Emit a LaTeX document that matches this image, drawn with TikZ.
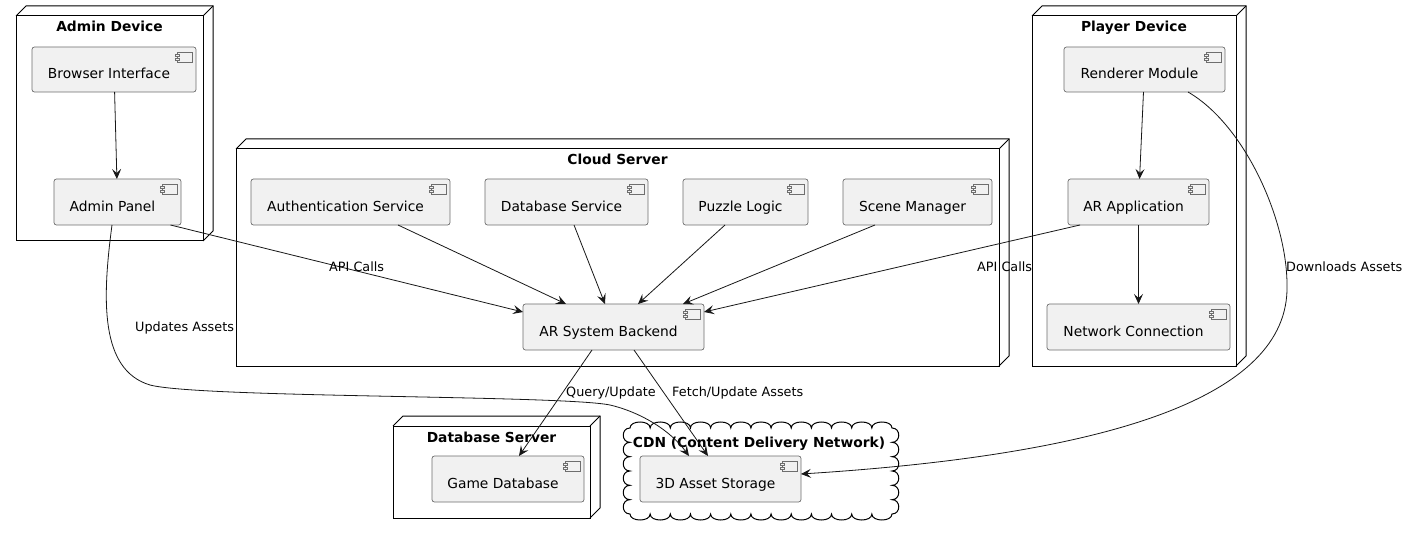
\documentclass[tikz,border=0pt]{standalone}
\usepackage{fontspec}
\setmainfont{DejaVu Sans}
\usetikzlibrary{arrows.meta}
\definecolor{compfill}{HTML}{F1F1F1}
\definecolor{compline}{HTML}{6E6E6E}
\definecolor{edgecol}{HTML}{181818}
\tikzset{
 comp/.style={draw=compline, line width=0.7pt, fill=compfill, rounded corners=2.5pt, inner sep=0pt, outer sep=0pt, minimum height=46pt, font=\fontsize{13.8}{16}\selectfont, text height=19pt, text depth=0pt, execute at begin node={\hspace*{-10pt}}},
 container/.style={draw=black, line width=1pt, fill=white, inner sep=0pt, outer sep=0pt},
 depthline/.style={draw=black, line width=1pt, line join=miter},
 ttl/.style={font=\bfseries\fontsize{13.8}{16}\selectfont, inner sep=0pt, anchor=base},
 elab/.style={font=\fontsize{12.8}{15}\selectfont, inner sep=0pt, anchor=base west},
 arr/.style={draw=edgecol, line width=0.8pt, -{Stealth[length=10pt,width=9pt,inset=4pt]}},
 iconbox/.style={draw=compline, line width=0.6pt, fill=compfill},
}
\newcommand\mkdepth[1]{%
 \draw[depthline] (#1.north west) -- ++(10,-10) -- ([shift={(10pt,10pt)}]#1.north east) -- ([shift={(10pt,10pt)}]#1.south east) -- (#1.south east);
 \draw[depthline] (#1.north east) -- ++(10,-10);}
\newcommand\mkicon[1]{%
 \draw[iconbox] ([xshift=-19pt,yshift=-5pt]#1.north east) rectangle ++(15,10);
 \draw[iconbox] ([xshift=-21pt,yshift=-7pt]#1.north east) rectangle ++(4,2);
 \draw[iconbox] ([xshift=-21pt,yshift=-11pt]#1.north east) rectangle ++(4,2);}
\begin{document}
\begin{tikzpicture}[x=1pt,y=-1pt]
\useasboundingbox (0,0) rectangle (1410,534);
% containers
\node[container, minimum width=187pt, minimum height=225pt] (adev) at (109.5,128.5) {};
\mkdepth{adev}
\node[ttl] (adevt) at ([yshift=-16pt]adev.north) {Admin Device};
\node[container, minimum width=763pt, minimum height=217pt] (csrv) at (617.5,257.5) {};
\mkdepth{csrv}
\node[ttl] (csrvt) at ([yshift=-16pt]csrv.north) {Cloud Server};
\node[container, minimum width=204pt, minimum height=350pt] (pdev) at (1134,191) {};
\mkdepth{pdev}
\node[ttl] (pdevt) at ([yshift=-16pt]pdev.north) {Player Device};
\node[container, minimum width=197pt, minimum height=92pt] (dbsrv) at (491.5,472) {};
\mkdepth{dbsrv}
\node[ttl] (dbsrvt) at ([yshift=-16pt]dbsrv.north) {Database Server};
% CDN cloud
\coordinate (cdn) at (761,471);
\draw[container] (630,428)
 \foreach \i in {0,...,12} { .. controls ({630+\i*20.1538},420) and ({630+(\i+1)*20.1538},420) .. ({630+(\i+1)*20.1538},428) }
 \foreach \i in {0,...,5} { .. controls (901,{428+\i*14.333}) and (901,{428+(\i+1)*14.333}) .. (892,{428+(\i+1)*14.333}) }
 \foreach \i in {0,...,12} { .. controls ({892-\i*20.1538},522) and ({892-(\i+1)*20.1538},522) .. ({892-(\i+1)*20.1538},514) }
 \foreach \i in {0,...,5} { .. controls (621,{514-\i*14.333}) and (621,{514-(\i+1)*14.333}) .. (630,{514-(\i+1)*14.333}) }
 -- cycle;
\node[ttl] (cdnt) at (759,447) {CDN (Content Delivery Network)};
% components
\node[comp, minimum width=164pt, minimum height=45pt] (bi) at (114,69.5) {Browser Interface};
\node[comp, minimum width=127pt] (ap) at (117.5,202) {Admin Panel};
\node[comp, minimum width=199pt] (auth) at (350.5,202) {Authentication Service};
\node[comp, minimum width=163pt] (dbs) at (566.5,202) {Database Service};
\node[comp, minimum width=125pt] (pl) at (745.5,202) {Puzzle Logic};
\node[comp, minimum width=149pt] (sm) at (917.5,202) {Scene Manager};
\node[comp, minimum width=181pt] (be) at (613.5,327) {AR System Backend};
\node[comp, minimum width=161pt, minimum height=45pt] (rm) at (1144.5,69.5) {Renderer Module};
\node[comp, minimum width=141pt] (ara) at (1138.5,202) {AR Application};
\node[comp, minimum width=183pt] (nc) at (1138.5,327) {Network Connection};
\node[comp, minimum width=152pt] (gd) at (508,479) {Game Database};
\node[comp, minimum width=161pt] (as) at (720.5,479) {3D Asset Storage};
\foreach \n in {bi,ap,auth,dbs,pl,sm,be,rm,ara,nc,gd,as} {\mkicon{\n}}
% edges
\draw[arr] (bi) -- (ap);
\draw[arr] (rm) -- (ara);
\draw[arr] (ara) -- (nc);
\draw[arr] ([xshift=-10.5pt]ap.south east) -- ([yshift=15pt]be.west);
\draw[arr] ([xshift=47.5pt]auth.south) -- ([xshift=-47.5pt]be.north);
\draw[arr] ([xshift=7.5pt]dbs.south) -- ([xshift=-8.5pt]be.north);
\draw[arr] ([xshift=-20.5pt]pl.south) -- ([xshift=24.5pt]be.north);
\draw[arr] ([xshift=-42.5pt]sm.south) -- ([xshift=69.5pt]be.north);
\draw[arr] ([xshift=-58.5pt]ara.south) -- ([yshift=15pt]be.east);
\draw[arr] ([xshift=-21.5pt]be.south) -- ([xshift=11pt]gd.north);
\draw[arr] ([xshift=20.5pt]be.south) -- ([xshift=-12.5pt]as.north);
\draw[arr] ([xshift=-5.5pt]ap.south) .. controls (102,300) and (100,370) .. (150,385) .. controls (200,398) and (560,395) .. (610,405) .. controls (640,412) and (670,430) .. ([xshift=-31.5pt]as.north);
\draw[arr] ([xshift=43.5pt]rm.south) .. controls (1245,125) and (1287,220) .. (1287,285) .. controls (1290,400) and (1100,455) .. ([yshift=5pt]as.east);
% edge labels
\node[elab] (l1) at (329,271.5) {API Calls};
\node[elab] (l2) at (977,271.5) {API Calls};
\node[elab] (l3) at (135,332) {Updates Assets};
\node[elab] (l4) at (566,396) {Query/Update};
\node[elab] (l5) at (672,396) {Fetch/Update Assets};
\node[elab] (l6) at (1286,271.5) {Downloads Assets};
\end{tikzpicture}
\end{document}
